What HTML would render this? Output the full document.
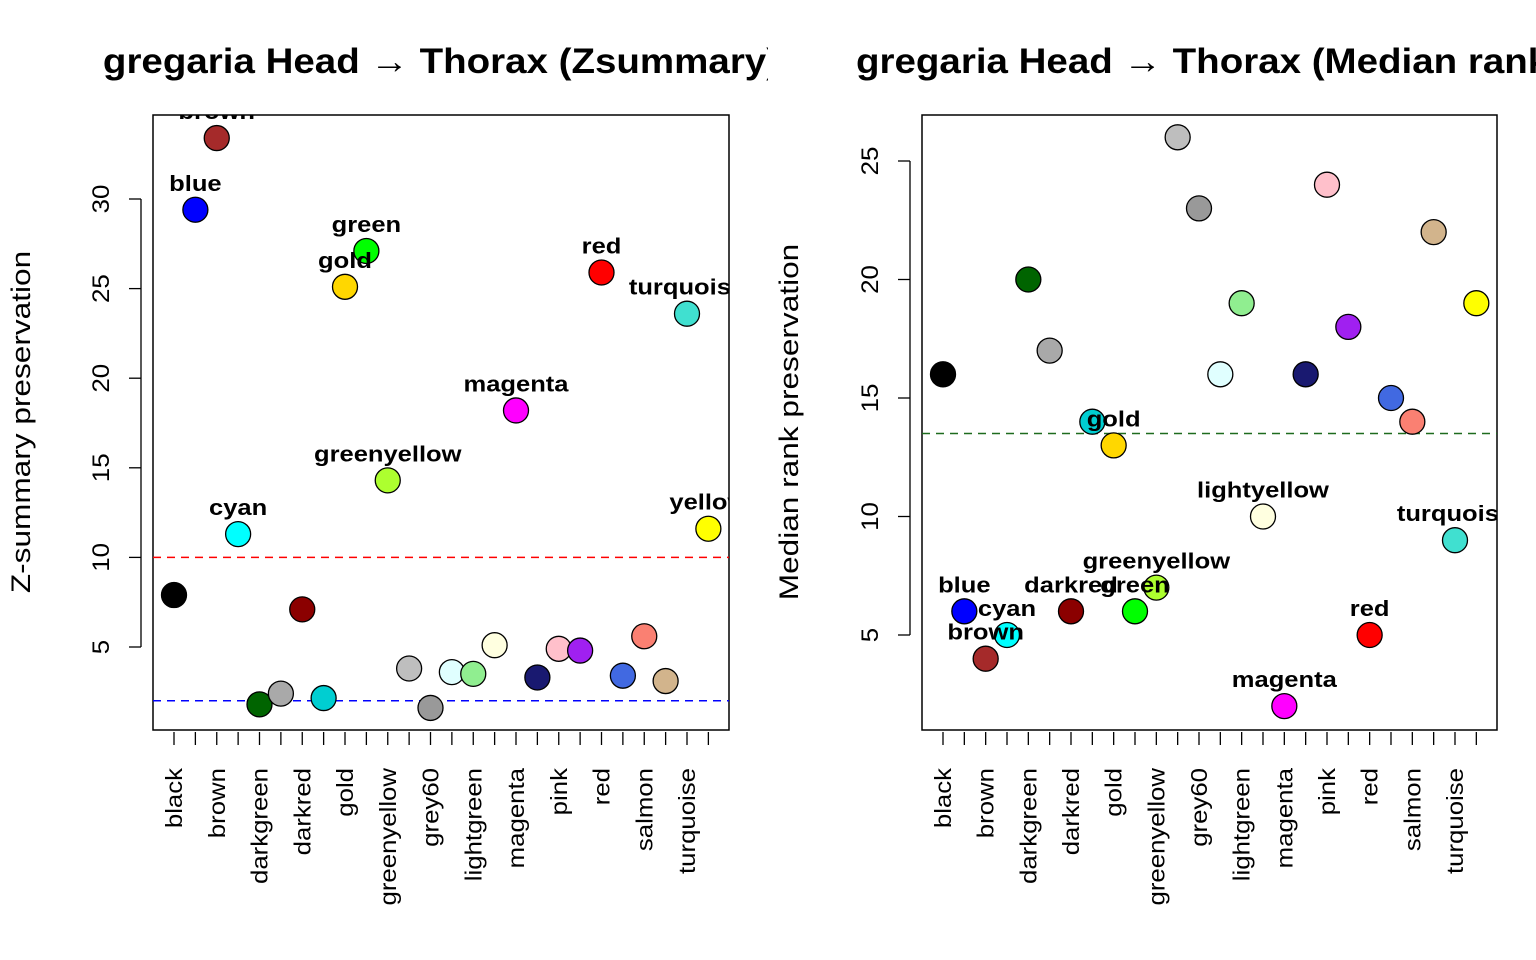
<!DOCTYPE html>
<html><head><meta charset="utf-8"><style>
html,body{margin:0;padding:0;background:#fff;}
svg{display:block;font-family:"Liberation Sans",Arial,sans-serif;}
</style></head><body>
<svg id="chart" width="1536" height="960" viewBox="0 0 1536 960" xmlns="http://www.w3.org/2000/svg">
<defs>
<clipPath id="figL"><rect x="0" y="0" width="768" height="960"/></clipPath>
<clipPath id="figR"><rect x="768" y="0" width="768" height="960"/></clipPath>
<clipPath id="plotL"><rect x="153" y="115" width="576" height="615"/></clipPath>
<clipPath id="plotR"><rect x="922" y="115" width="575" height="615"/></clipPath>
</defs>
</svg>
<script>
const modules = ["black","blue","brown","cyan","darkgreen","darkgrey","darkred","darkturquoise","gold","green","greenyellow","grey","grey60","lightcyan","lightgreen","lightyellow","magenta","midnightblue","pink","purple","red","royalblue","salmon","tan","turquoise","yellow"];
const fillColors = ["#000000","#0000FF","#A52A2A","#00FFFF","#006400","#A9A9A9","#8B0000","#00CED1","#FFD700","#00FF00","#ADFF2F","#BEBEBE","#999999","#E0FFFF","#90EE90","#FFFFE0","#FF00FF","#191970","#FFC0CB","#A020F0","#FF0000","#4169E1","#FA8072","#D2B48C","#40E0D0","#FFFF00"];
const zsummary = [7.9,29.4,33.4,11.3,1.8,2.4,7.1,2.15,25.1,27.1,14.3,3.8,1.6,3.6,3.5,5.1,18.2,3.3,4.9,4.8,25.9,3.4,5.6,3.1,23.6,11.6];
const medianRank = [16,6,4,5,20,17,6,14,13,6,7,26,23,16,19,10,2,16,24,18,5,15,14,22,9,19];
const zTicks = [5,10,15,20,25,30];
const rankTicks = [5,10,15,20,25];
const xTickLabels = ["black","brown","darkgreen","darkred","gold","greenyellow","grey60","lightgreen","magenta","pink","red","salmon","turquoise"];

const svg = document.getElementById('chart');
const NS = "http://www.w3.org/2000/svg";
function mk(tag, attrs, parent){const e=document.createElementNS(NS,tag);for(const k in attrs)e.setAttribute(k,attrs[k]);(parent||svg).appendChild(e);return e;}
function stretch(el, f){
  const w = el.getComputedTextLength();
  if(w>0){el.setAttribute('textLength', (w*f).toFixed(1));el.setAttribute('lengthAdjust','spacingAndGlyphs');}
}

function panel(cfg){
  const g = mk('g',{'clip-path':'url(#'+cfg.fig+')'});
  
  
  const x = i => cfg.x0 + i*cfg.dx;
  const y = v => cfg.yRef + (cfg.vRef - v)*cfg.py;
  const t = mk('text',{x:cfg.tx,y:73,'font-size':35,'font-weight':'bold','text-anchor':'middle'},g);
  t.textContent = cfg.title;
  
  
  stretch(t,1.10);
  const b = mk('rect',{x:cfg.L,y:115,width:cfg.R-cfg.L,height:615,fill:'none',stroke:'#000','stroke-width':1.5},g);
  
  
  const ya = mk('g',{},g);
  
  
  const yt = cfg.ticks;
  mk('line',{x1:cfg.L-12,x2:cfg.L-12,y1:y(yt[0]),y2:y(yt[yt.length-1]),stroke:'#000','stroke-width':1.3},ya);
  yt.forEach(v=>{
    mk('line',{x1:cfg.L-12,x2:cfg.L-24,y1:y(v),y2:y(v),stroke:'#000','stroke-width':1.3},ya);
    const tx = cfg.L-44;
    const l = mk('text',{x:tx,y:y(v),'font-size':24,'text-anchor':'middle',transform:`rotate(-90 ${tx} ${y(v)})`},ya);
    l.textContent = v;
    
    
    stretch(l,1.08);
  });
  const yl = mk('text',{x:cfg.ytx,y:422,'font-size':27,'text-anchor':'middle',transform:`rotate(-90 ${cfg.ytx} 422)`},g);
  yl.textContent = cfg.ylab;
  
  
  stretch(yl,1.17);
  const xa = mk('g',{},g);
  
  
  modules.forEach((m,i)=>{
    mk('line',{x1:x(i),x2:x(i),y1:732,y2:745,stroke:'#000','stroke-width':1.3},xa);
  });
  xTickLabels.forEach(lab=>{
    const i = modules.indexOf(lab);
    const px = x(i)+8, py = 768;
    const l = mk('text',{x:px,y:py,'font-size':23,'text-anchor':'end',transform:`rotate(-90 ${px} ${py})`},xa);
    l.textContent = lab;
    
    
    stretch(l,1.12);
  });
  const pg = mk('g',{'clip-path':'url(#'+cfg.plot+')'},g);
  cfg.refs.forEach(r=>{
    const ln = mk('line',{x1:cfg.L,x2:cfg.R,y1:y(r.v),y2:y(r.v),stroke:r.c,'stroke-width':1.5,'stroke-dasharray':'8,6'},pg);
    
    
  });
  modules.forEach((m,i)=>{
    const v = cfg.vals[i];
    const c = mk('circle',{cx:x(i),cy:y(v),r:12.5,fill:fillColors[i],stroke:'#000','stroke-width':1.3},pg);
    
    
  });
  modules.forEach((m,i)=>{
    const v = cfg.vals[i];
    if(!cfg.show(v)) return;
    const l = mk('text',{x:x(i),y:y(v)-19,'font-size':22,'font-weight':'bold','text-anchor':'middle'},pg);
    l.textContent = m;
    
    
    stretch(l,1.16);
  });
}

panel({name:'zsummary-panel',fig:'figL',plot:'plotL',title:'gregaria Head \u2192 Thorax (Zsummary)',tx:441,
  L:153,R:729,x0:174,dx:21.375,yRef:647,vRef:5,py:17.92,ticks:zTicks,vals:zsummary,
  ylab:'Z-summary preservation',ytx:30,
  refs:[{v:10,c:'#FF0000',n:'threshold-line-10'},{v:2,c:'#0000FF',n:'threshold-line-2'}],
  show:v=>v>10});
panel({name:'median-rank-panel',fig:'figR',plot:'plotR',title:'gregaria Head \u2192 Thorax (Median rank)',tx:1209,
  L:922,R:1497,x0:943,dx:21.333,yRef:635,vRef:5,py:23.7,ticks:rankTicks,vals:medianRank,
  ylab:'Median rank preservation',ytx:798,
  refs:[{v:13.5,c:'#1E6B1E',n:'median-rank-threshold-line'}],
  show:v=>v<13.5});
</script>
</body></html>
